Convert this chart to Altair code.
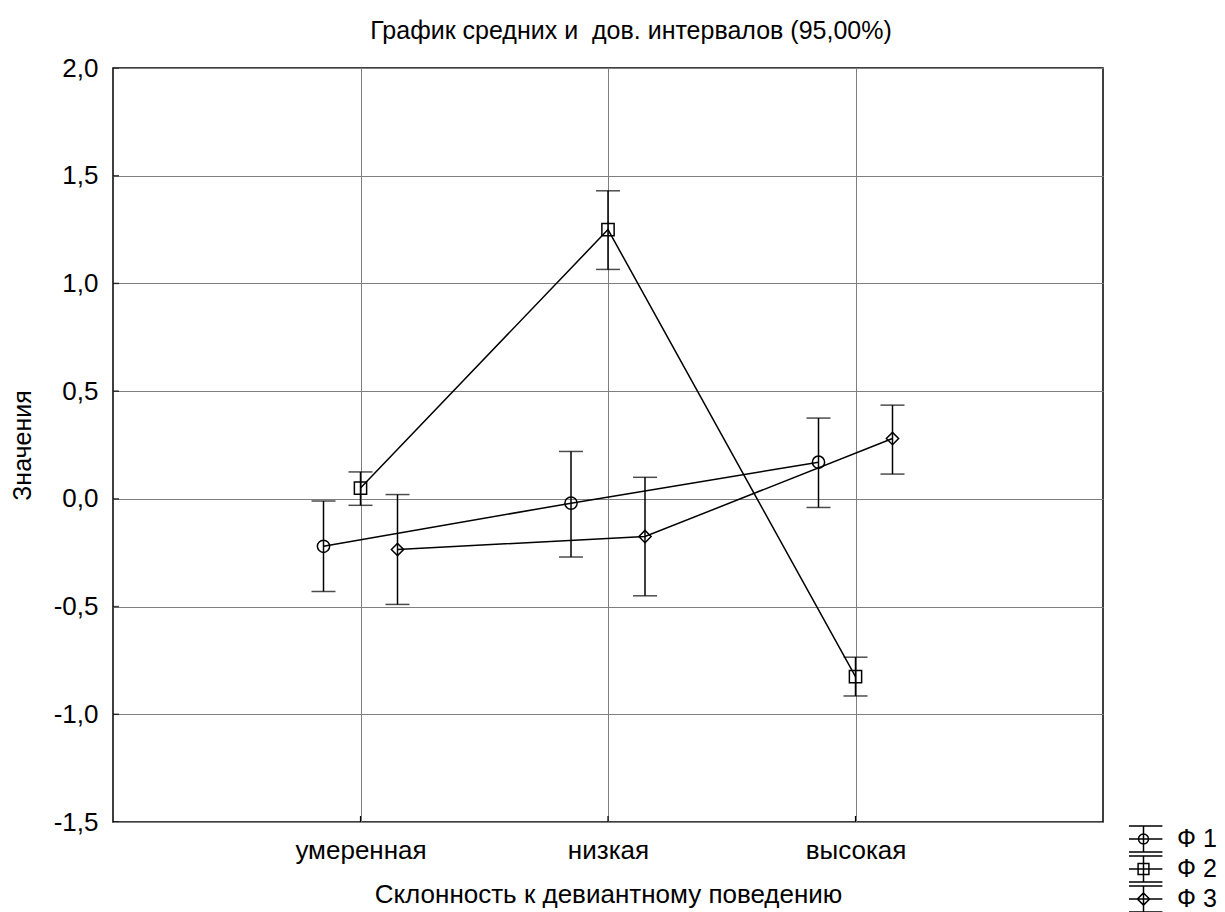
import altair as alt
import pandas as pd

categories = ["умеренная", "низкая", "высокая"]
series = ["Ф 1", "Ф 2", "Ф 3"]

f1_mean = [-0.22, -0.02, 0.17]
f1_low = [-0.43, -0.27, -0.04]
f1_high = [-0.01, 0.22, 0.375]

f2_mean = [0.05, 1.25, -0.825]
f2_low = [-0.03, 1.065, -0.915]
f2_high = [0.125, 1.43, -0.735]

f3_mean = [-0.235, -0.175, 0.28]
f3_low = [-0.49, -0.45, 0.115]
f3_high = [0.02, 0.10, 0.435]

y_ticks = [-1.5, -1.0, -0.5, 0.0, 0.5, 1.0, 1.5, 2.0]

rows = []
for s, m, lo, hi in zip(series, [f1_mean, f2_mean, f3_mean],
                        [f1_low, f2_low, f3_low], [f1_high, f2_high, f3_high]):
    for i, c in enumerate(categories):
        rows.append({"cat": c, "order": i, "series": s, "mean": m[i], "low": lo[i], "high": hi[i]})
df = pd.DataFrame(rows)
ticks_df = pd.DataFrame({"v": y_ticks})
cat_df = pd.DataFrame({"cat": categories})

FONT = "Liberation Sans"
FS = 26
TFS = 25

x_enc = alt.X("cat:N", sort=categories,
              scale=alt.Scale(type="point", padding=1, domain=categories),
              axis=alt.Axis(title="Склонность к девиантному поведению", labelAngle=0,
                            grid=True, gridColor="#7f7f7f", gridWidth=1,
                            ticks=False, domain=False, labelPadding=15, titlePadding=18,
                            titleFontSize=26))
y_scale = alt.Scale(domain=[-1.5, 2.0], nice=False, zero=False)
y_enc_axis = alt.Axis(title="Значения", values=y_ticks,
                      labelExpr="replace(replace(format(datum.value, '.1f'), '.', ','), '\u2212', '-')",
                      grid=True, gridColor="#7f7f7f", gridWidth=1,
                      ticks=False, domain=False, labelPadding=15, titlePadding=18,
                      titleFontSize=TFS)
xoff = alt.XOffset("series:N", scale=alt.Scale(type="point", domain=series, range=[-37, 37], padding=0))

base = alt.Chart(df)

rules = base.mark_rule(color="black", strokeWidth=1.5).encode(
    x=x_enc, xOffset=xoff,
    y=alt.Y("low:Q", scale=y_scale, axis=y_enc_axis), y2="high:Q")

caps_lo = base.mark_tick(color="black", orient="horizontal", size=24, thickness=1.5).encode(
    x=alt.X("cat:N", sort=categories), xOffset=xoff, y=alt.Y("low:Q"))
caps_hi = base.mark_tick(color="black", orient="horizontal", size=24, thickness=1.5).encode(
    x=alt.X("cat:N", sort=categories), xOffset=xoff, y=alt.Y("high:Q"))

lines = base.mark_line(color="black", strokeWidth=1.5).encode(
    x=alt.X("cat:N", sort=categories), xOffset=xoff, y=alt.Y("mean:Q"),
    detail="series:N", order="order:Q")

points = base.mark_point(filled=False, color="black", strokeWidth=1.5, size=150, opacity=1).encode(
    x=alt.X("cat:N", sort=categories), xOffset=xoff, y=alt.Y("mean:Q"),
    shape=alt.Shape("series:N", scale=alt.Scale(domain=series, range=["circle", "square", "diamond"]),
                    legend=None))

# inward y-axis ticks
ytk = alt.Chart(ticks_df).mark_tick(color="black", orient="horizontal", size=12, thickness=1.5, clip=True).encode(
    x=alt.value(0), y=alt.Y("v:Q"))
# inward x-axis ticks
xtk = alt.Chart(cat_df).mark_rule(color="black", strokeWidth=1.2).encode(
    x=alt.X("cat:N", sort=categories), y=alt.value(754), y2=alt.value(748))

legend_paths = [
    "M-1.4,-0.96L1.4,-0.96M-1.4,0L1.4,0M-1.4,0.96L1.4,0.96M0,-0.96L0,0.96"
    "M-0.37,0A0.37,0.37,0,1,0,0.37,0A0.37,0.37,0,1,0,-0.37,0",
    "M-1.4,-0.96L1.4,-0.96M-1.4,0L1.4,0M-1.4,0.96L1.4,0.96M0,-0.96L0,0.96"
    "M-0.4,-0.4L0.4,-0.4L0.4,0.4L-0.4,0.4Z",
    "M-1.4,-0.96L1.4,-0.96M-1.4,0L1.4,0M-1.4,0.96L1.4,0.96M0,-0.96L0,0.96"
    "M0,-0.45L0.45,0L0,0.45L-0.45,0Z",
]

legend_layer = base.mark_point(filled=False, color="black", opacity=0).encode(
    x=alt.X("cat:N", sort=categories), xOffset=xoff, y=alt.Y("mean:Q"),
    shape=alt.Shape("series:N", scale=alt.Scale(domain=series, range=legend_paths),
                    legend=alt.Legend(title=None, orient="none", legendX=1016, legendY=756,
                                      symbolSize=729, symbolStrokeWidth=1.5,
                                      symbolStrokeColor="black", symbolFillColor="transparent",
                                      symbolOpacity=1, labelOffset=19, rowPadding=0,
                                      clipHeight=30,
                                      padding=0, labelFontSize=TFS, labelFont=FONT,
                                      labelColor="black", labelBaseline="middle")))

chart = alt.layer(rules, caps_lo, caps_hi, lines, points, ytk, xtk, legend_layer).resolve_scale(
    shape="independent"
).properties(
    width=990, height=754,
    title=alt.TitleParams("График средних и \u00a0дов. интервалов (95,00%)",
                          fontSize=TFS, font=FONT, fontWeight="normal", color="black",
                          anchor="middle", offset=11, dx=23),
    autosize=alt.AutoSizeParams(type="none"),
    padding={"left": 105, "top": 60, "right": 114, "bottom": 90},
).configure_view(
    stroke="black", strokeWidth=1.5
).configure_axis(
    labelFont=FONT, titleFont=FONT, labelFontSize=FS,
    labelColor="black", titleColor="black", titleFontWeight="normal"
)

chart.save("out.html", embed_options={"renderer": "svg", "actions": False})
